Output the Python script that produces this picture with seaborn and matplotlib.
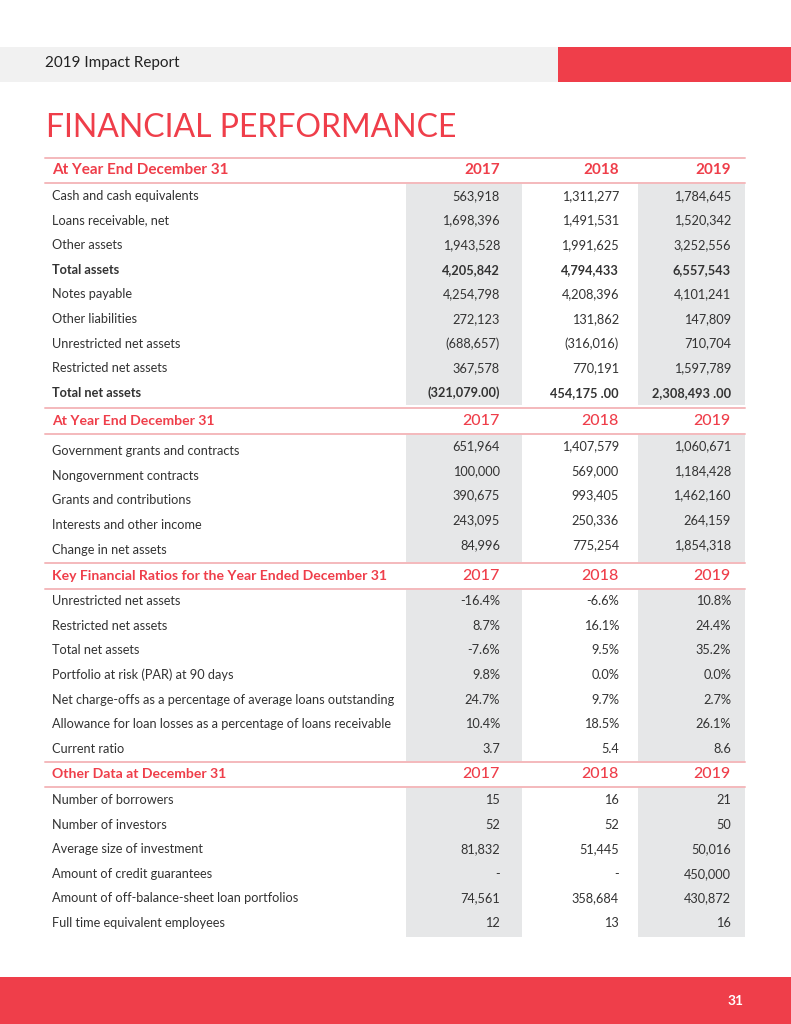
import matplotlib
matplotlib.use("Agg")
import matplotlib.pyplot as plt
import seaborn as sns

# ---------------- data ----------------
years = ["2017", "2018", "2019"]

sec1_title = "At Year End December 31"
sec1_labels = ["Cash and cash equivalents", "Loans receivable, net", "Other assets",
               "Total assets", "Notes payable", "Other liabilities",
               "Unrestricted net assets", "Restricted net assets", "Total net assets"]
sec1_2017 = ["563,918", "1,698,396", "1,943,528", "4,205,842", "4,254,798", "272,123",
             "(688,657)", "367,578", "(321,079.00)"]
sec1_2018 = ["1,311,277", "1,491,531", "1,991,625", "4,794,433", "4,208,396", "131,862",
             "(316,016)", "770,191", "454,175 .00"]
sec1_2019 = ["1,784,645", "1,520,342", "3,252,556", "6,557,543", "4,101,241", "147,809",
             "710,704", "1,597,789", "2,308,493 .00"]

sec2_title = "At Year End December 31"
sec2_labels = ["Government grants and contracts", "Nongovernment contracts",
               "Grants and contributions", "Interests and other income",
               "Change in net assets"]
sec2_2017 = ["651,964", "100,000", "390,675", "243,095", "84,996"]
sec2_2018 = ["1,407,579", "569,000", "993,405", "250,336", "775,254"]
sec2_2019 = ["1,060,671", "1,184,428", "1,462,160", "264,159", "1,854,318"]

sec3_title = "Key Financial Ratios for the Year Ended December 31"
sec3_labels = ["Unrestricted net assets", "Restricted net assets", "Total net assets",
               "Portfolio at risk (PAR) at 90 days",
               "Net charge-offs as a percentage of average loans outstanding",
               "Allowance for loan losses as a percentage of loans receivable",
               "Current ratio"]
sec3_2017 = ["-16.4%", "8.7%", "-7.6%", "9.8%", "24.7%", "10.4%", "3.7"]
sec3_2018 = ["-6.6%", "16.1%", "9.5%", "0.0%", "9.7%", "18.5%", "5.4"]
sec3_2019 = ["10.8%", "24.4%", "35.2%", "0.0%", "2.7%", "26.1%", "8.6"]

sec4_title = "Other Data at December 31"
sec4_labels = ["Number of borrowers", "Number of investors", "Average size of investment",
               "Amount of credit guarantees", "Amount of off-balance-sheet loan portfolios",
               "Full time equivalent employees"]
sec4_2017 = ["15", "52", "81,832", "-", "74,561", "12"]
sec4_2018 = ["16", "52", "51,445", "-", "358,684", "13"]
sec4_2019 = ["21", "50", "50,016", "450,000", "430,872", "16"]

header_text = "2019 Impact Report"
page_title = "FINANCIAL PERFORMANCE"
page_number = "31"

# ---------------- style ----------------
sns.set_theme(style="white")
plt.rcParams["font.family"] = ["Lato", "DejaVu Sans"]

RED = "#EF3E4A"
BAR_GRAY = "#F1F1F1"
COL_GRAY = "#E6E7E8"
LINE = "#F4B9BC"
TXT = "#333333"

fig = plt.figure(figsize=(7.91, 10.24), dpi=100)
ax = fig.add_axes([0, 0, 1, 1])
ax.set_xlim(0, 791)
ax.set_ylim(1024, 0)
ax.axis("off")

# top band
ax.fill_between([0, 558], 47, 82, color=BAR_GRAY, lw=0)
ax.fill_between([558, 791], 47, 82, color=RED, lw=0)
ax.text(45, 63, header_text, fontsize=11, color="#222222", va="center", ha="left")

ax.text(46, 128, page_title, fontsize=23, color=RED, va="center", ha="left",
        fontweight="normal")

# footer
ax.fill_between([0, 791], 977, 1024, color=RED, lw=0)
ax.text(736, 1001, page_number, fontsize=10, color="white", fontweight="bold",
        va="center", ha="center")

LEFT, RIGHT = 45, 745
LABEL_X = 52
COL_RIGHT = [500, 619, 731]
SHADE = [(406, 522), (638, 745)]

sections = [
    (sec1_title, sec1_labels, [sec1_2017, sec1_2018, sec1_2019], 158, 183, 196, 24.6, 405, {3, 8}, True, 0, 11),
    (sec2_title, sec2_labels, [sec2_2017, sec2_2018, sec2_2019], 408, 434, 451, 24.7, 562, set(), False, -5, 10.1),
    (sec3_title, sec3_labels, [sec3_2017, sec3_2018, sec3_2019], 563, 589, 601, 24.7, 762, set(), False, 0, 10.1),
    (sec4_title, sec4_labels, [sec4_2017, sec4_2018, sec4_2019], 762, 787, 800, 24.6, 937, set(), False, 0, 10.1),
]

for title, labels, cols, top, bot, first, step, shade_end, bold_rows, bold_years, voff, hsize in sections:
    for x0, x1 in SHADE:
        ax.fill_between([x0, x1], bot, shade_end, color=COL_GRAY, lw=0, zorder=0)
    ax.plot([LEFT, RIGHT], [top, top], color=LINE, lw=1.4, zorder=2)
    ax.plot([LEFT, RIGHT], [bot, bot], color=LINE, lw=1.4, zorder=2)
    hy = (top + bot) / 2
    ax.text(LABEL_X, hy, title, fontsize=hsize, color=RED, fontweight="bold",
            va="center", ha="left")
    for xr, yr in zip(COL_RIGHT, years):
        ax.text(xr, hy, yr, fontsize=11 if bold_years else 11.5, color=RED,
                fontweight="bold" if bold_years else "medium", va="center", ha="right")
    for i, lab in enumerate(labels):
        y = first + i * step
        w = "bold" if i in bold_rows else "normal"
        ax.text(LABEL_X, y, lab, fontsize=9.2, color=TXT, fontweight=w,
                va="center", ha="left")
        for xr, col in zip(COL_RIGHT, cols):
            ax.text(xr, y + voff, col[i], fontsize=9.2, color=TXT, fontweight=w,
                    va="center", ha="right")

fig.savefig("out.png", dpi=100, facecolor="white")
